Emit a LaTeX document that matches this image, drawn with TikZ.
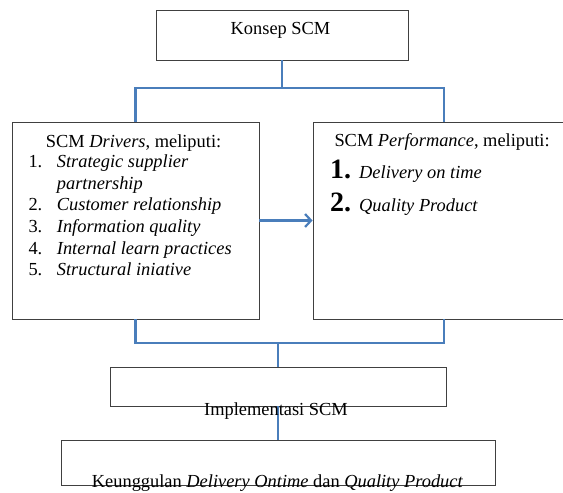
\documentclass[tikz,border=0pt]{standalone}
\usepackage{fontspec}
\setmainfont{Liberation Serif}
\usetikzlibrary{arrows.meta}
\definecolor{lineblue}{HTML}{4A7EBB}
\definecolor{boxgray}{HTML}{404040}
\begin{document}
\begin{tikzpicture}[x=1pt,y=-1pt,
  box/.style={draw=boxgray,line width=0.9pt,rectangle,inner sep=0pt},
  conn/.style={draw=lineblue,line width=2.8pt},
  txt/.style={inner sep=0pt,font=\fontsize{18.4}{21.5}\selectfont},
  big/.style={inner sep=0pt,font=\fontsize{28}{30}\selectfont\bfseries}]
\useasboundingbox (0,0) rectangle (563,493);
% boxes
\node[box,minimum width=252pt,minimum height=50pt] (top) at (282,35) {};
\node[box,minimum width=247pt,minimum height=197pt] (left) at (135.5,220.5) {};
\node[box,minimum width=262pt,minimum height=197pt] (right) at (444,220.5) {};
\node[box,minimum width=336pt,minimum height=39pt] (impl) at (278,386.5) {};
\node[box,minimum width=434pt,minimum height=44.5pt] (keung) at (278,463) {};
% connectors
\coordinate (j1) at (282,88);
\coordinate (j2) at (278,343);
\draw[conn] (top.south) -- (j1);
\draw[conn] (left.north) |- (j1) -| (right.north);
\draw[conn] (left.south) |- (j2) -| (right.south);
\draw[conn] (j2) -- (impl.north);
\draw[conn] (impl.south) -- (keung.north);
\draw[draw=lineblue,line width=2.4pt,-{Straight Barb[length=6pt,width=13pt,line width=2.2pt]}] (left.east) -- (right.west);
% texts
\node[txt,anchor=base] (tk) at (280.5,34) {Konsep SCM};
\node[txt,anchor=base west] (d0) at (45.7,147.3) {SCM \textit{Drivers}, meliputi:};
\node[txt,anchor=base west] (n1) at (28.3,167.7) {1.};
\node[txt,anchor=base west] (d1) at (56.7,167.7) {\textit{Strategic supplier}};
\node[txt,anchor=base west] (d1b) at (56.7,189) {\textit{partnership}};
\node[txt,anchor=base west] (n2) at (28.3,210.7) {2.};
\node[txt,anchor=base west] (d2) at (56.7,210.7) {\textit{Customer relationship}};
\node[txt,anchor=base west] (n3) at (28.3,232.3) {3.};
\node[txt,anchor=base west] (d3) at (56.7,232.3) {\textit{Information quality}};
\node[txt,anchor=base west] (n4) at (28.3,254) {4.};
\node[txt,anchor=base west] (d4) at (56.7,254) {\textit{Internal learn practices}};
\node[txt,anchor=base west] (n5) at (28.3,275.7) {5.};
\node[txt,anchor=base west] (d5) at (56.7,275.7) {\textit{Structural iniative}};
\node[txt,anchor=base west] (p0) at (334.3,146.5) {SCM \textit{Performance}, meliputi:};
\node[big,anchor=base west] (m1) at (330,178.5) {1.};
\node[txt,anchor=base west] (p1) at (359,178.5) {\textit{Delivery on time}};
\node[big,anchor=base west] (m2) at (330,211.7) {2.};
\node[txt,anchor=base west] (p2) at (359,211.7) {\textit{Quality Product}};
\node[txt,anchor=base] (ti) at (276,415) {Implementasi SCM};
\node[txt,anchor=base] (tu) at (277.5,487) {Keunggulan \textit{Delivery Ontime} dan \textit{Quality Product}};
\end{tikzpicture}
\end{document}
